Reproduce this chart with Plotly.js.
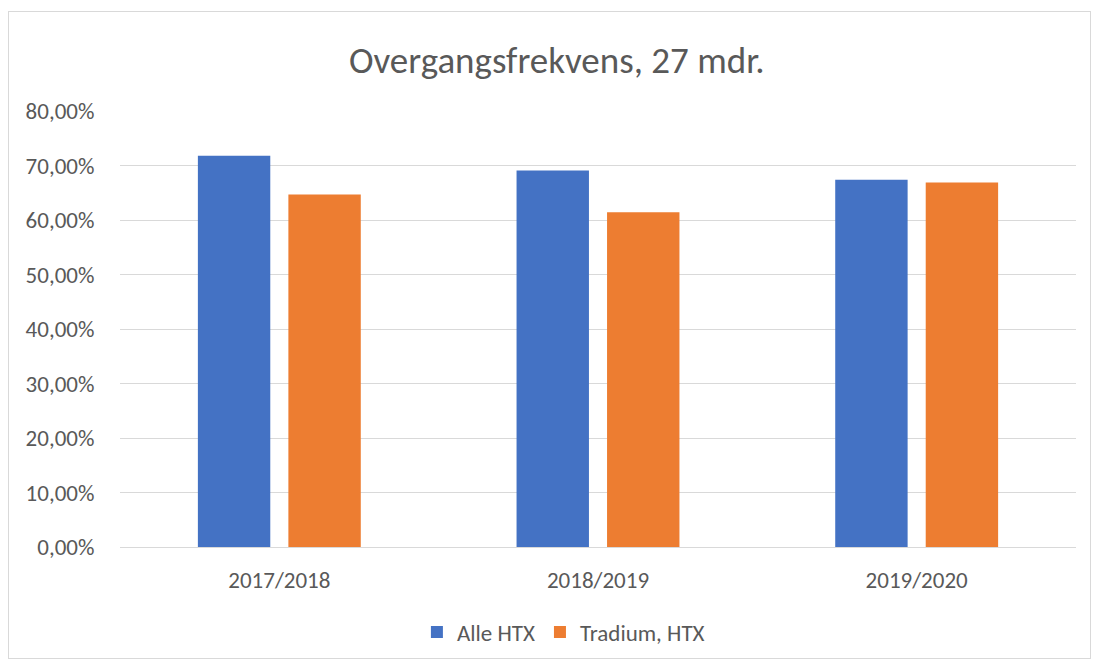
<!DOCTYPE html>
<html>
<head>
<meta charset="utf-8">
<script src="https://cdn.plot.ly/plotly-3.0.1.min.js"></script>
<style>
  html, body { margin: 0; padding: 0; background: #ffffff; }
  #wrap { position: relative; width: 1094px; height: 661px; }
  #chart { position: absolute; left: 0; top: 0; width: 1094px; height: 661px; }
  #border { position: absolute; left: 8px; top: 11px; width: 1083px; height: 648px; border: 1px solid #d9d9d9; box-sizing: border-box; pointer-events: none; }
</style>
</head>
<body>
<div id="wrap">
  <div id="chart"></div>
  <div id="border"></div>
</div>
<script>
const categories = ["2017/2018", "2018/2019", "2019/2020"];
const alleHTX = [0.718, 0.691, 0.674];
const tradiumHTX = [0.647, 0.614, 0.669];
const seriesNames = ["Alle HTX", "Tradium, HTX"];
const yTicks = [0, 0.1, 0.2, 0.3, 0.4, 0.5, 0.6, 0.7, 0.8];

const fontFam = "Carlito, 'Liberation Sans', Arial, sans-serif";
const textCol = "#595959";

const data = [
  { type: "bar", name: seriesNames[0], x: categories, y: alleHTX, marker: { color: "#4472C4" }, hoverinfo: "none" },
  { type: "bar", name: seriesNames[1], x: categories, y: tradiumHTX, marker: { color: "#ED7D31" }, hoverinfo: "none" }
];

const layout = {
  width: 1094, height: 661,
  paper_bgcolor: "rgba(0,0,0,0)", plot_bgcolor: "#ffffff",
  separators: ",.",
  margin: { l: 120, r: 18, t: 111, b: 114 },
  barmode: "group", bargap: 0.432, bargroupgap: 0.2,
  font: { family: fontFam, color: textCol, size: 23 },
  title: {
    text: "Overgangsfrekvens, 27 mdr.",
    font: { family: fontFam, size: 37, color: textCol },
    xref: "container", x: 0.509, xanchor: "center",
    yref: "container", y: 1 - 60/661, yanchor: "middle"
  },
  xaxis: {
    type: "category",
    showline: true, linecolor: "#d9d9d9", linewidth: 1,
    showgrid: false, zeroline: false,
    ticks: "outside", ticklen: 12, tickcolor: "rgba(0,0,0,0)",
    tickfont: { family: fontFam, size: 23, color: textCol }
  },
  yaxis: {
    range: [0, 0.8],
    tickvals: yTicks, tickformat: ".2%",
    showgrid: true, gridcolor: "#d9d9d9", gridwidth: 1,
    zeroline: false, showline: false,
    ticks: "outside", ticklen: 20, tickcolor: "rgba(0,0,0,0)",
    tickfont: { family: fontFam, size: 23, color: textCol }
  },
  showlegend: true,
  legend: {
    orientation: "h",
    xref: "container", x: 0.515, xanchor: "center",
    yref: "container", y: 1 - 632/661, yanchor: "middle",
    font: { family: fontFam, size: 23, color: textCol },
    itemwidth: 30,
    bgcolor: "rgba(0,0,0,0)"
  }
};

Plotly.newPlot("chart", data, layout, { displayModeBar: false, staticPlot: true });
</script>
</body>
</html>
